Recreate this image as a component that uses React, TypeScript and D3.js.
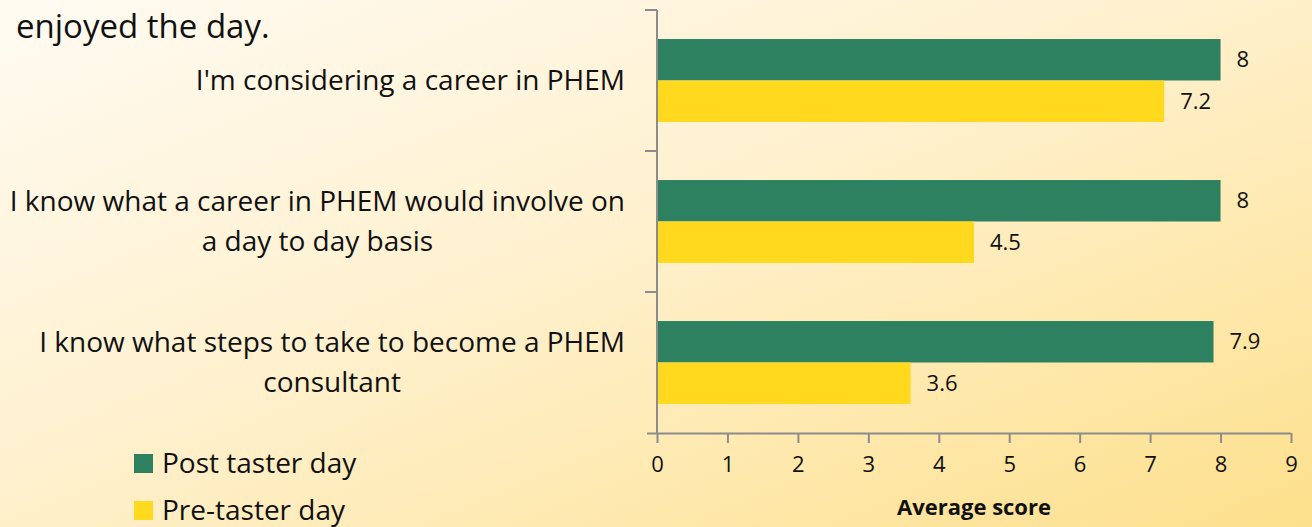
import React, { useEffect, useRef } from "react";
import * as d3 from "d3";

const categories = [
  ["I'm considering a career in PHEM"],
  ["I know what a career in PHEM would involve on", "a day to day basis"],
  ["I know what steps to take to become a PHEM", "consultant"],
];
const postValues = [8, 8, 7.9];
const preValues = [7.2, 4.5, 3.6];
const seriesNames = ["Post taster day", "Pre-taster day"];
const xTicks = [0, 1, 2, 3, 4, 5, 6, 7, 8, 9];

const GREEN = "#2e8160";
const YELLOW = "#ffd91e";
const FONT = "'Open Sans', Lato, sans-serif";

const App = () => {
  const svgRef = useRef<SVGSVGElement>(null);

  const width = 1312;
  const height = 527;
  const plot = { left: 657, right: 1291, top: 10, bottom: 433 };

  useEffect(() => {
    const svg = d3.select(svgRef.current);
    svg.selectAll("*").remove();

    // background
    const defs = svg.append("defs");
    const grad = defs
      .append("linearGradient")
      .attr("id", "bg")
      .attr("x1", "0")
      .attr("y1", "0")
      .attr("x2", "1")
      .attr("y2", "1");
    grad.append("stop").attr("offset", "0%").attr("stop-color", "#fffbf2");
    grad.append("stop").attr("offset", "45%").attr("stop-color", "#fff1cf");
    grad.append("stop").attr("offset", "100%").attr("stop-color", "#fde08c");
    svg.append("rect").attr("width", width).attr("height", height).attr("fill", "url(#bg)");

    const x = d3.scaleLinear().domain([0, 9]).range([plot.left, plot.right]);
    const y = d3
      .scaleBand<number>()
      .domain(d3.range(categories.length))
      .range([plot.top, plot.bottom]);
    const inner = d3
      .scaleBand<number>()
      .domain([0, 1])
      .range([0, y.bandwidth()])
      .paddingOuter(0.7)
      .paddingInner(0);

    const series = [postValues, preValues];
    const colors = [GREEN, YELLOW];

    series.forEach((vals, s) => {
      svg
        .append("g")
        .selectAll("rect")
        .data(vals)
        .enter()
        .append("rect")
        .attr("x", x(0))
        .attr("y", (d, i) => y(i)! + inner(s)!)
        .attr("width", (d) => x(d) - x(0))
        .attr("height", inner.bandwidth())
        .attr("fill", colors[s]);

      svg
        .append("g")
        .selectAll("text")
        .data(vals)
        .enter()
        .append("text")
        .attr("x", (d) => x(d) + 16)
        .attr("y", (d, i) => y(i)! + inner(s)! + inner.bandwidth() / 2)
        .attr("dy", "0.35em")
        .attr("font-family", FONT)
        .attr("font-size", 22)
        .attr("fill", "#111")
        .text((d) => String(d));
    });

    // x axis
    const xAxis = svg
      .append("g")
      .attr("transform", `translate(0, ${plot.bottom})`)
      .call(d3.axisBottom(x).tickValues(xTicks).tickSize(10).tickSizeOuter(0).tickPadding(13));
    xAxis.select(".domain").attr("stroke", "#8c8c8c").attr("stroke-width", 2).attr("d", `M${plot.left - 10},0.5H${plot.right}`);
    xAxis.selectAll(".tick line").attr("stroke", "#8c8c8c").attr("stroke-width", 2);
    xAxis
      .selectAll(".tick text")
      .attr("font-family", FONT)
      .attr("font-size", 22)
      .attr("fill", "#111");

    // y axis
    const yAxis = svg.append("g").attr("transform", `translate(${plot.left}, 0)`);
    yAxis
      .append("line")
      .attr("x1", 0)
      .attr("x2", 0)
      .attr("y1", plot.top)
      .attr("y2", plot.bottom)
      .attr("stroke", "#8c8c8c")
      .attr("stroke-width", 2);
    yAxis
      .selectAll("line.tick")
      .data(d3.range(categories.length))
      .enter()
      .append("line")
      .attr("class", "tick")
      .attr("x1", -12)
      .attr("x2", 0)
      .attr("y1", (i) => y(i)!)
      .attr("y2", (i) => y(i)!)
      .attr("stroke", "#8c8c8c")
      .attr("stroke-width", 2);

    // category labels, each block centered, right edge near the axis
    const lineH = 40;
    categories.forEach((lines, i) => {
      const cy = y(i)! + y.bandwidth() / 2;
      const g = svg.append("g");
      const texts = g
        .selectAll("text")
        .data(lines)
        .enter()
        .append("text")
        .attr("y", (d, k) => cy + (k - (lines.length - 1) / 2) * lineH)
        .attr("dy", "0.35em")
        .attr("text-anchor", "middle")
        .attr("font-family", FONT)
        .attr("font-size", 28)
        .attr("fill", "#111")
        .text((d) => d);
      let maxW = 0;
      texts.each(function () {
        maxW = Math.max(maxW, (this as SVGTextElement).getComputedTextLength());
      });
      texts.attr("x", 625 - maxW / 2);
    });

    // axis title
    svg
      .append("text")
      .attr("x", (plot.left + plot.right) / 2)
      .attr("y", 507)
      .attr("dy", "0.35em")
      .attr("text-anchor", "middle")
      .attr("font-family", FONT)
      .attr("font-size", 22)
      .attr("font-weight", "bold")
      .attr("fill", "#111")
      .text("Average score");

    // legend
    seriesNames.forEach((name, s) => {
      const ly = 463 + s * 47;
      svg
        .append("rect")
        .attr("x", 134)
        .attr("y", ly - 9)
        .attr("width", 19)
        .attr("height", 19)
        .attr("fill", colors[s]);
      svg
        .append("text")
        .attr("x", 162)
        .attr("y", ly)
        .attr("dy", "0.35em")
        .attr("font-family", FONT)
        .attr("font-size", 28)
        .attr("fill", "#111")
        .text(name);
    });

    // leftover slide text
    svg
      .append("text")
      .attr("x", 16)
      .attr("y", 38)
      .attr("font-family", FONT)
      .attr("font-size", 33)
      .attr("fill", "#111")
      .text("enjoyed the day.");
  }, []);

  return (
    <svg
      ref={svgRef}
      width={width}
      height={height}
      style={{ position: "absolute", left: 0, top: 0, display: "block" }}
    ></svg>
  );
};

export default App;
